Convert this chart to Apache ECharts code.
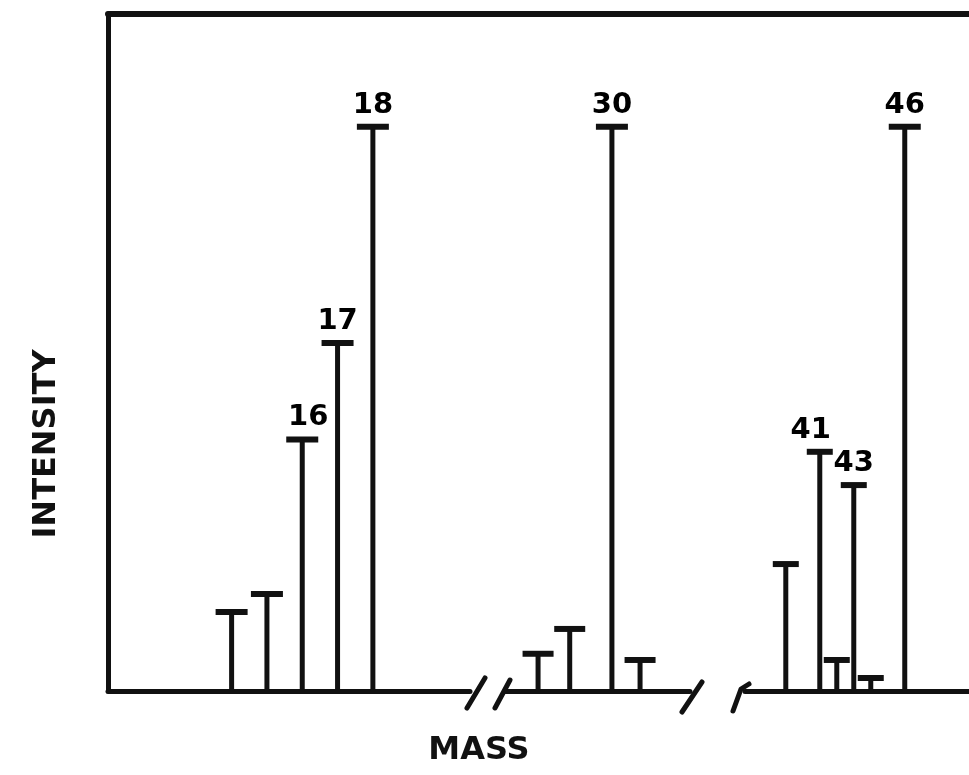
<!DOCTYPE html>
<html>
<head>
<meta charset="utf-8">
<script src="https://cdn.jsdelivr.net/npm/echarts@6/dist/echarts.min.js"></script>
<style>html,body{margin:0;padding:0;background:#fff}#c{width:969px;height:775px}</style>
</head>
<body>
<div id="c"></div>
<script>
// Segment 1 (left part of broken mass axis)
const seg1Mass = [14, 15, 16, 17, 18];
const seg1Intensity = [14.0, 17.2, 44.6, 61.7, 100];
const seg1Labels = ['', '', '16', '17', '18'];
// Segment 2 (middle)
const seg2Mass = [27.9, 28.8, 30, 30.8];
const seg2Intensity = [6.6, 11.0, 100, 5.5];
const seg2Labels = ['', '', '30', ''];
// Segment 3 (right)
const seg3Mass = [39, 41, 42, 43, 44, 46];
const seg3Intensity = [22.5, 42.4, 5.5, 36.5, 2.3, 100];
const seg3Labels = ['', '41', '', '43', '', '46'];

const INK = '#111';
const capWidths = [32, 31, 26];
const axisY = { type: 'value', min: 0, max: 120, show: true, axisLine: { show: false }, axisTick: { show: false }, axisLabel: { show: false }, splitLine: { show: false } };
function xSeg(min, max) {
  return { type: 'value', min: min, max: max, axisLine: { show: true, onZero: false, lineStyle: { color: INK, width: 5 } },
    axisTick: { show: false }, axisLabel: { show: false }, splitLine: { show: false } };
}
const segs = [
  { mass: seg1Mass, val: seg1Intensity, lab: seg1Labels },
  { mass: seg2Mass, val: seg2Intensity, lab: seg2Labels },
  { mass: seg3Mass, val: seg3Intensity, lab: seg3Labels }
];
const series = [];
segs.forEach((s, i) => {
  const pts = s.mass.map((m, k) => [m, s.val[k]]);
  series.push({ type: 'bar', xAxisIndex: i, yAxisIndex: i, barWidth: 5, data: pts,
    itemStyle: { color: INK, opacity: 1 }, silent: true, animation: false });
  series.push({ type: 'scatter', xAxisIndex: i, yAxisIndex: i, symbol: 'rect',
    symbolSize: (v) => [v[1] >= 99 ? 32 : capWidths[i], 6],
    itemStyle: { color: INK, opacity: 1 }, animation: false, silent: true, z: 3,
    data: pts.map((p, k) => {
      const lbl = s.lab[k];
      return { value: p, label: { show: lbl !== '', formatter: lbl, position: 'top', distance: 4,
        fontFamily: 'DejaVu Sans', fontWeight: 'bold', fontSize: 29, color: '#000', opacity: 1,
        offset: lbl === '41' ? [-9, 0] : (lbl === '16' ? [6, 0] : [0, 0]) } };
    }) });
});

const chart = echarts.init(document.getElementById('c'), null, { renderer: 'canvas' });
chart.setOption({
  backgroundColor: '#fff',
  animation: false,
  grid: [
    { left: 108, top: 14, width: 362, height: 677 },
    { left: 505, top: 14, width: 185, height: 677 },
    { left: 745, top: 14, right: 0, height: 677 },
    { left: 108, top: 14, right: 0, height: 677 }
  ],
  xAxis: [
    xSeg(10.5, 20.75),
    xSeg(26.96, 32.22),
    xSeg(36.6, 49.78),
    { type: 'value', min: 0, max: 1, position: 'top', axisLine: { show: true, onZero: false, lineStyle: { color: INK, width: 6 } },
      axisTick: { show: false }, axisLabel: { show: false }, splitLine: { show: false } }
  ].map((a, i) => Object.assign({ gridIndex: i }, a)),
  yAxis: [0, 1, 2].map(i => Object.assign({ gridIndex: i }, axisY)).concat([
    { gridIndex: 3, type: 'value', min: 0, max: 1, axisLine: { show: true, onZero: false, lineStyle: { color: INK, width: 5 } },
      axisTick: { show: false }, axisLabel: { show: false }, splitLine: { show: false } }
  ]),
  series: series,
  graphic: [
    { type: 'text', x: 47, y: 444, rotation: Math.PI / 2,
      style: { text: 'INTENSITY', fontFamily: 'DejaVu Sans', fontWeight: 'bold', fontSize: 32, fill: INK, textAlign: 'center', textVerticalAlign: 'middle' } },
    { type: 'text', x: 479, y: 751,
      style: { text: 'MASS', fontFamily: 'DejaVu Sans', fontWeight: 'bold', fontSize: 32, fill: INK, textAlign: 'center', textVerticalAlign: 'middle' } },
    { type: 'line', shape: { x1: 467, y1: 708, x2: 485, y2: 678 }, style: { stroke: INK, lineWidth: 5, lineCap: 'round' } },
    { type: 'line', shape: { x1: 495, y1: 708, x2: 510, y2: 680 }, style: { stroke: INK, lineWidth: 5, lineCap: 'round' } },
    { type: 'line', shape: { x1: 682, y1: 712, x2: 702, y2: 682 }, style: { stroke: INK, lineWidth: 5, lineCap: 'round' } },
    { type: 'polyline', shape: { points: [[733, 711], [741, 689], [749, 684]] }, style: { stroke: INK, lineWidth: 5, lineCap: 'round', lineJoin: 'round', fill: null } }
  ]
});
</script>
</body>
</html>
